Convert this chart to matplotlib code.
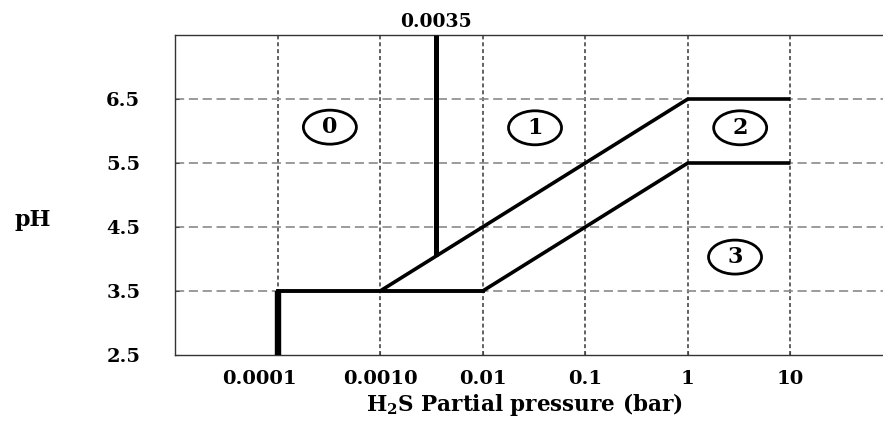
import matplotlib
matplotlib.use("Agg")
import matplotlib.pyplot as plt
from matplotlib.patches import Ellipse
from matplotlib.transforms import ScaledTranslation

# region boundaries (H2S partial pressure in bar, pH)
base_x = [1e-4, 1e-4, 1e-2]
base_y = [2.5, 3.5, 3.5]
upper_x = [1e-3, 1, 10]
upper_y = [3.5, 6.5, 6.5]
lower_x = [1e-2, 1, 10]
lower_y = [3.5, 5.5, 5.5]
limit_x = [0.0035, 0.0035]
limit_y = [7.5, 4.04]

# region labels
region_names = ["0", "1", "2", "3"]
region_x = [10**-3.49, 10**-1.49, 10**0.51, 10**0.46]
region_y = [6.06, 6.05, 6.05, 4.03]

xticks = [1e-4, 1e-3, 1e-2, 1e-1, 1, 10]
xtick_labels = ["0.0001", "0.0010", "0.01", "0.1", "1", "10"]
yticks = [2.5, 3.5, 4.5, 5.5, 6.5]
ytick_labels = ["2.5", "3.5", "4.5", "5.5", "6.5"]

SERIF = "DejaVu Serif"
plt.rcParams["font.family"] = SERIF
plt.rcParams["font.weight"] = "bold"
plt.rcParams["mathtext.fontset"] = "custom"
plt.rcParams["mathtext.rm"] = "DejaVu Serif:bold"
plt.rcParams["mathtext.it"] = "DejaVu Serif:bold"
plt.rcParams["mathtext.bf"] = "DejaVu Serif:bold"

fig = plt.figure(figsize=(8.83, 4.25), dpi=100)
ax = fig.add_axes([175 / 883, 1 - 355 / 425, 718 / 883, 320 / 425])
ax.set_xscale("log")
ax.set_xlim(1e-5, 1e2)
ax.set_ylim(2.5, 7.5)

# grid
for xv in xticks:
    ax.axvline(xv, color="#555555", lw=1.3, ls=(0, (2.2, 1.6)), zorder=1)
for yv in yticks[1:]:
    ax.axhline(yv, color="#8a8a8a", lw=1.2, ls=(0, (5.5, 2.8)), zorder=1)

# boundaries
ax.plot(base_x[:2], base_y[:2], color="black", lw=4.6, solid_capstyle="butt", zorder=3)
ax.plot(base_x[1:], base_y[1:], color="black", lw=2.8, solid_capstyle="projecting", zorder=3)
ax.plot(upper_x, upper_y, color="black", lw=2.6, solid_capstyle="butt", zorder=3)
ax.plot(lower_x, lower_y, color="black", lw=2.6, solid_capstyle="butt", zorder=3)
ax.plot(limit_x, limit_y, color="black", lw=3.6, solid_capstyle="butt", zorder=3,
        clip_on=False)
ax.text(limit_x[0], 7.5 + 0.06, "0.0035", ha="center", va="bottom",
        fontsize=13.5, fontweight="bold")

# circled region numbers
for name, xv, yv in zip(region_names, region_x, region_y):
    tr = fig.dpi_scale_trans + ScaledTranslation(xv, yv, ax.transData)
    ax.add_patch(Ellipse((0, 0), 0.53, 0.34, transform=tr, fill=False,
                         lw=2.0, ec="black", zorder=4))
    ax.text(xv, yv, name, ha="center", va="center", fontsize=16,
            fontweight="bold", zorder=5)

ax.set_xticks(xticks)
ax.set_xticklabels(xtick_labels)
ax.minorticks_off()
ax.set_yticks(yticks)
ax.set_yticklabels(ytick_labels)
ax.tick_params(axis="both", direction="in", length=3, width=0.8,
               color="#444444", labelsize=14)
ax.tick_params(axis="x", pad=11)
ax.tick_params(axis="y", pad=25)

for side in ["left", "top", "bottom"]:
    ax.spines[side].set_color("#333333")
    ax.spines[side].set_linewidth(1.0)
ax.spines["right"].set_visible(False)

# the first x label sits left of its gridline in the original
lab0 = ax.get_xticklabels()[0]
lab0.set_transform(lab0.get_transform()
                   + ScaledTranslation(-0.18, 0, fig.dpi_scale_trans))

fig.text(33 / 883, 1 - 220 / 425, "pH", ha="center", va="center",
         fontsize=16, fontweight="bold")
fig.text(524 / 883, 1 - 405 / 425, "H$_2$S Partial pressure (bar)",
         ha="center", va="center", fontsize=15.5, fontweight="bold")

fig.savefig("out.png", dpi=100)
